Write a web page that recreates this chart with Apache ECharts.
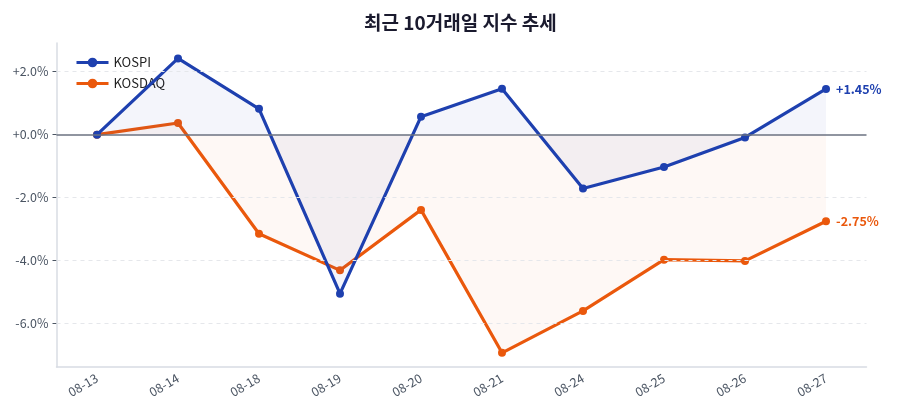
<!DOCTYPE html>
<html>
<head>
<meta charset="utf-8">
<script src="https://cdn.jsdelivr.net/npm/echarts@6/dist/echarts.min.js"></script>
<style>
html,body{margin:0;padding:0;background:#fff;}
#c{width:900px;height:420px;}
</style>
</head>
<body>
<div id="c"></div>
<script>
const categories = ['08-13','08-14','08-18','08-19','08-20','08-21','08-24','08-25','08-26','08-27'];
const kospi  = [0, 2.42, 0.82, -5.05, 0.57, 1.46, -1.71, -1.03, -0.09, 1.45];
const kosdaq = [0, 0.37, -3.15, -4.31, -2.39, -6.93, -5.60, -3.97, -4.01, -2.75];
const gridValues = [-6, -4, -2, 2];
const titleText = '최근 10거래일 지수 추세';

const BLUE = '#1e40af';
const ORANGE = '#ea580c';
const fmtPct = v => (v >= 0 ? '+' : '') + v.toFixed(2) + '%';

function withEndLabel(arr, color) {
  return arr.map((v, i) => i === arr.length - 1 ? {
    value: v,
    label: {
      show: true, position: 'right', distance: 6,
      formatter: fmtPct(v), color: color, fontWeight: 'bold', fontSize: 12.5,
      fontFamily: 'Noto Sans CJK KR'
    }
  } : v);
}

const chart = echarts.init(document.getElementById('c'), null, {renderer: 'canvas'});
chart.setOption({
  animation: false,
  backgroundColor: '#fff',
  textStyle: {fontFamily: 'Noto Sans CJK KR'},
  title: {
    text: titleText, left: 359, top: 8,
    textStyle: {fontSize: 19, fontWeight: 'bold', color: '#1a1a2e', fontFamily: 'Noto Sans CJK KR'}
  },
  legend: {
    orient: 'vertical', left: 70, top: 51, itemGap: 8,
    itemWidth: 32, itemHeight: 12,
    lineStyle: {width: 3},
    textStyle: {fontSize: 13, color: '#222', fontFamily: 'Noto Sans CJK KR'},
    data: ['KOSPI', 'KOSDAQ']
  },
  grid: {left: 56.5, right: 33.5, top: 43, bottom: 53},
  xAxis: {
    type: 'category', data: categories, boundaryGap: true,
    axisLine: {onZero: false, lineStyle: {color: '#d8dce3', width: 1.5}},
    axisTick: {alignWithLabel: true, length: 4, lineStyle: {color: '#4b5563', width: 1.2}},
    axisLabel: {rotate: 30, color: '#4b5563', fontSize: 12.5, margin: 10, fontFamily: 'Noto Sans CJK KR'},
    splitLine: {show: false}
  },
  yAxis: {
    type: 'value', min: -7.38, max: 2.91,
    axisLine: {show: true, lineStyle: {color: '#d8dce3', width: 1.5}},
    axisTick: {show: true, length: 4, lineStyle: {color: '#4b5563'}},
    axisLabel: {
      color: '#4b5563', fontSize: 12.5, showMinLabel: false, showMaxLabel: false,
      fontFamily: 'Noto Sans CJK KR',
      formatter: v => (Math.abs(v % 2) < 1e-6 ? ((v >= 0 ? '+' : '') + v.toFixed(1) + '%') : '')
    },
    splitLine: {show: false}
  },
  series: [
    {
      name: 'KOSPI', type: 'line', data: withEndLabel(kospi, BLUE),
      symbol: 'circle', symbolSize: 8, z: 4,
      lineStyle: {color: BLUE, width: 3.2},
      itemStyle: {color: BLUE},
      areaStyle: {color: 'rgba(30,64,175,0.075)', origin: 0},
      markLine: {
        silent: true, symbol: 'none', label: {show: false},
        data: gridValues.map(v => ({yAxis: v, lineStyle: {color: '#e5e7eb', type: [4, 4], width: 1}}))
          .concat([{yAxis: 0, lineStyle: {color: '#6b7280', type: 'solid', width: 1.6}}])
      }
    },
    {
      name: 'KOSDAQ', type: 'line', data: withEndLabel(kosdaq, ORANGE),
      symbol: 'circle', symbolSize: 8, z: 3,
      lineStyle: {color: ORANGE, width: 3.2},
      itemStyle: {color: ORANGE},
      areaStyle: {color: 'rgba(234,88,12,0.055)', origin: 0}
    }
  ]
});
</script>
</body>
</html>
